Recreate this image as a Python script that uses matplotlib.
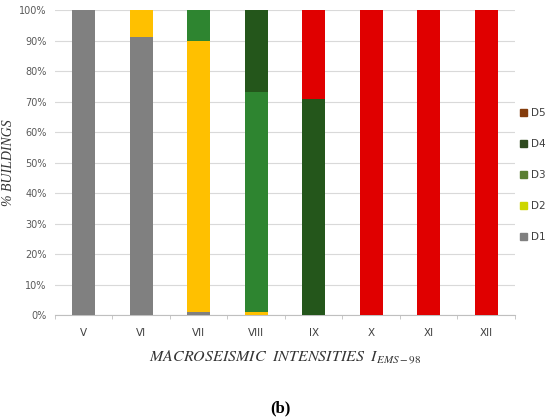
import matplotlib.pyplot as plt
import numpy as np
from matplotlib.patches import Patch

plt.rcParams['mathtext.fontset'] = 'stix'

intensities = ['V', 'VI', 'VII', 'VIII', 'IX', 'X', 'XI', 'XII']
D1 = [100, 91, 1, 0, 0, 0, 0, 0]
D2 = [0, 9, 89, 1, 0, 0, 0, 0]
D3 = [0, 0, 10, 72, 0, 0, 0, 0]
D4 = [0, 0, 0, 27, 71, 0, 0, 0]
D5 = [0, 0, 0, 0, 29, 100, 100, 100]

series = [D1, D2, D3, D4, D5]
bar_colors = ['#808080', '#FFC000', '#2E8530', '#24561B', '#E00000']
legend_names = ['D1', 'D2', 'D3', 'D4', 'D5']
legend_colors = ['#808080', '#CCD600', '#5A7F32', '#2F4A1E', '#843C0C']

fig = plt.figure(figsize=(5.5, 4.18), dpi=100)
ax = fig.add_axes([0.1, 0.246, 0.836, 0.730])

x = np.arange(len(intensities))
bottom = np.zeros(len(intensities))
for vals, col in zip(series, bar_colors):
    ax.bar(x, vals, 0.4, bottom=bottom, color=col, zorder=3)
    bottom += np.array(vals)

ax.set_xlim(-0.5, len(intensities) - 0.5)
ax.set_ylim(0, 100)
ax.set_yticks(np.arange(0, 101, 10))
ax.set_yticklabels([f'{v}%' for v in range(0, 101, 10)])
ax.yaxis.grid(True, color='#D9D9D9', linewidth=0.8, zorder=0)
ax.tick_params(axis='y', length=0, labelsize=7, labelcolor='#595959', pad=6)

ax.set_xticks(x)
ax.set_xticklabels(intensities)
ax.set_xticks(np.arange(-0.5, len(intensities)), minor=True)
ax.tick_params(axis='x', which='major', length=0, labelsize=7.5, labelcolor='#404040', pad=9)
ax.tick_params(axis='x', which='minor', length=3, color='#BFBFBF', direction='out')

for s in ['top', 'right', 'left']:
    ax.spines[s].set_visible(False)
ax.spines['bottom'].set_color('#BFBFBF')

ax.set_ylabel('% BUILDINGS', fontsize=10, fontfamily='Liberation Serif',
              fontstyle='italic', color='#333333')
ax.yaxis.set_label_coords(-0.087, 0.5)
ax.set_xlabel(r'$MACROSEISMIC\ \ INTENSITIES\ \ I_{EMS-98}$', fontsize=11.5,
              color='#333333', labelpad=8)

handles = [Patch(color=c, label=n) for n, c in zip(legend_names, legend_colors)][::-1]
fig.legend(handles=handles, loc='center left', bbox_to_anchor=(0.928, 0.581),
           frameon=False, fontsize=7.5, handlelength=0.7, handleheight=0.7,
           handletextpad=0.4, labelspacing=2.0, labelcolor='#404040')

fig.text(0.51, 0.004, '(b)', ha='center', va='bottom', fontsize=12,
         fontfamily='Liberation Serif', fontweight='bold')

fig.savefig('out.png', dpi=100)
